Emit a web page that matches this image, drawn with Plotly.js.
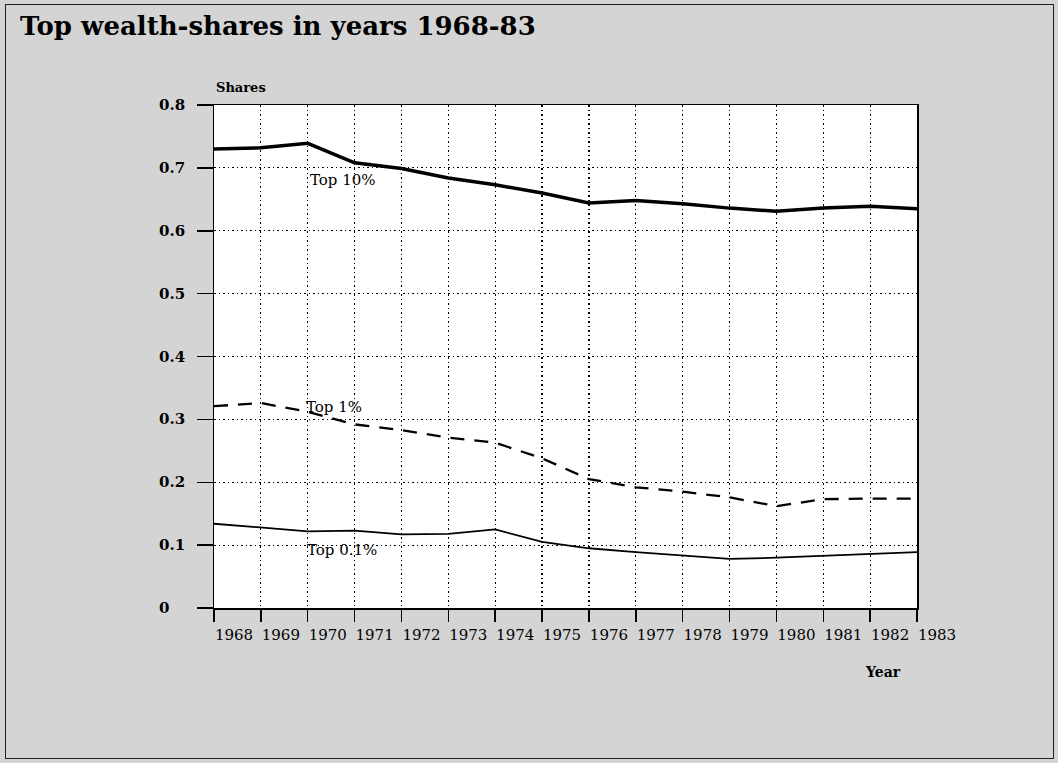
<!DOCTYPE html>
<html>
<head>
<meta charset="utf-8">
<script src="https://cdn.plot.ly/plotly-3.0.1.min.js"></script>
<style>
  html, body { margin: 0; padding: 0; background: #d4d4d4; }
  #wrap { position: relative; width: 1058px; height: 763px; }
  #chart { width: 1058px; height: 763px; }
  #frame { position: absolute; left: 5px; top: 4px; width: 1047px; height: 753px;
           border: 1px solid #222; pointer-events: none; }
</style>
</head>
<body>
<div id="wrap">
  <div id="chart"></div>
  <div id="frame"></div>
</div>
<script>
const years = [1968,1969,1970,1971,1972,1973,1974,1975,1976,1977,1978,1979,1980,1981,1982,1983];
const yearLabels = years.map(String);
const top10 = [0.730,0.732,0.739,0.708,0.699,0.684,0.673,0.660,0.644,0.648,0.643,0.636,0.631,0.636,0.639,0.635];
const top1  = [0.321,0.326,0.312,0.292,0.283,0.271,0.263,0.238,0.205,0.192,0.185,0.176,0.162,0.173,0.174,0.174];
const top01 = [0.134,0.128,0.122,0.123,0.117,0.118,0.125,0.105,0.095,0.089,0.084,0.078,0.080,0.083,0.086,0.089];
const yTickVals = [0,0.1,0.2,0.3,0.4,0.5,0.6,0.7,0.8];
const yTickLabels = ['0','0.1','0.2','0.3','0.4','0.5','0.6','0.7','0.8'];
const seriesNames = ['Top 10%','Top 1%','Top 0.1%'];

const serif = 'DejaVu Serif, Liberation Serif, serif';

const traces = [
  {x: years, y: top10, mode: 'lines', name: seriesNames[0], line: {color: '#000', width: 3.5}},
  {x: years, y: top1, mode: 'lines', name: seriesNames[1], line: {color: '#000', width: 2.3, dash: '14px,10px'}},
  {x: years, y: top01, mode: 'lines', name: seriesNames[2], line: {color: '#000', width: 1.8}}
];

const annotations = [];
yTickVals.forEach((v, i) => {
  annotations.push({xref: 'paper', yref: 'y', x: -0.081, y: v, xanchor: 'left', yanchor: 'middle',
    text: yTickLabels[i], showarrow: false, font: {family: serif, size: 15, color: '#000', weight: 'bold'}});
});
annotations.push({xref: 'x', yref: 'y', x: 1970, y: 0.681, xanchor: 'left', yanchor: 'middle',
  text: seriesNames[0], showarrow: false, font: {family: serif, size: 15, color: '#000'}});
annotations.push({xref: 'x', yref: 'y', x: 1969.92, y: 0.320, xanchor: 'left', yanchor: 'middle',
  text: seriesNames[1], showarrow: false, font: {family: serif, size: 15, color: '#000'}});
annotations.push({xref: 'x', yref: 'y', x: 1969.95, y: 0.092, xanchor: 'left', yanchor: 'middle',
  text: seriesNames[2], showarrow: false, font: {family: serif, size: 15, color: '#000'}});
annotations.push({xref: 'paper', yref: 'paper', x: 0, y: 1.034, xanchor: 'left', yanchor: 'middle',
  text: 'Shares', showarrow: false, font: {family: serif, size: 13, color: '#000', weight: 'bold'}});
annotations.push({xref: 'paper', yref: 'paper', x: 0.923, y: -0.127, xanchor: 'left', yanchor: 'middle',
  text: 'Year', showarrow: false, font: {family: serif, size: 14, color: '#000', weight: 'bold'}});

const layout = {
  width: 1058, height: 763,
  margin: {l: 214, r: 141, t: 105, b: 155, pad: 0},
  paper_bgcolor: '#d4d4d4',
  plot_bgcolor: '#ffffff',
  showlegend: false,
  title: {text: 'Top wealth-shares in years 1968-83', x: 0.019, xanchor: 'left', xref: 'container',
    y: 0.966, yanchor: 'middle', yref: 'container',
    font: {family: serif, size: 26, color: '#000', weight: 'bold'}},
  xaxis: {range: [1968, 1983], tickvals: years, ticktext: yearLabels, ticks: 'outside', ticklen: 12,
    tickcolor: '#000', tickwidth: 1.5, ticklabelshift: 20,
    showline: true, mirror: true, linecolor: '#000', linewidth: 1.5,
    showgrid: true, gridcolor: '#000', griddash: '1.5px,3px', gridwidth: 1.2, zeroline: false,
    tickfont: {family: serif, size: 15, color: '#000'}},
  yaxis: {range: [0, 0.8], tickvals: yTickVals, ticks: 'outside', ticklen: 16, tickcolor: '#000', tickwidth: 1.5,
    showticklabels: false,
    showline: true, mirror: true, linecolor: '#000', linewidth: 1.5,
    showgrid: true, gridcolor: '#000', griddash: '1.5px,3px', gridwidth: 1.2, zeroline: false},
  annotations: annotations,
  shapes: [
    {type: 'line', xref: 'paper', yref: 'y', x0: -0.0228, x1: 0, y0: 0, y1: 0, line: {color: '#000', width: 1.5}}
  ]
};

Plotly.newPlot('chart', traces, layout, {displayModeBar: false, staticPlot: true});
</script>
</body>
</html>
